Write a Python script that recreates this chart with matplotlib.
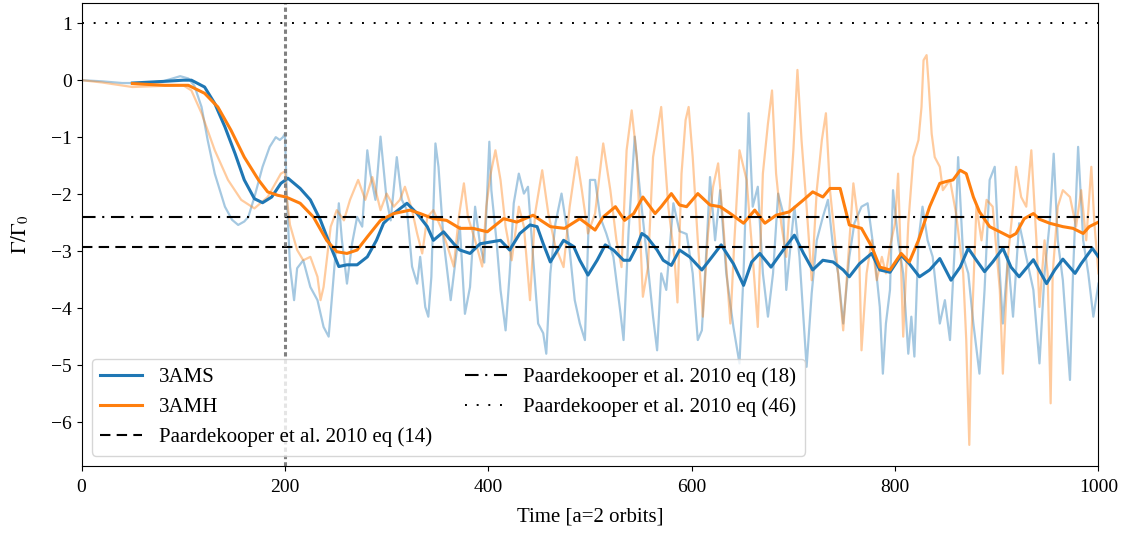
import matplotlib
matplotlib.use("Agg")
import matplotlib.pyplot as plt

plt.rcParams['font.family'] = ['Liberation Serif', 'DejaVu Serif']
plt.rcParams['mathtext.fontset'] = 'stix'
plt.rcParams['font.size'] = 14

# raw torque, run 3AMS
t_raw_s = [0, 20, 40, 60, 80, 97, 105, 111, 118, 124, 131, 141, 148, 154, 160, 164, 170, 178,
           185, 191, 195, 198, 200, 202, 205, 209, 212, 218, 225, 232, 238, 243, 246, 250, 253,
           256, 261, 266, 271, 276, 281, 284, 289, 294, 300, 304, 310, 315, 320, 325, 330, 333,
           338, 341, 344, 348, 351, 356, 363, 367, 372, 377, 382, 387, 392, 396, 401, 403, 408,
           412, 417, 421, 425, 430, 435, 439, 444, 449, 454, 457, 461, 466, 472, 479, 485, 490,
           495, 500, 505, 510, 516, 523, 530, 533, 538, 544, 549, 556, 562, 566, 570, 575, 582,
           588, 595, 601, 606, 610, 615, 618, 623, 628, 634, 641, 647, 651, 656, 660, 665, 670,
           675, 680, 685, 690, 693, 698, 701, 706, 713, 718, 723, 729, 734, 739, 744, 749, 755,
           760, 767, 773, 780, 785, 788, 791, 795, 798, 803, 808, 813, 816, 819, 823, 827, 832,
           837, 844, 849, 854, 859, 862, 867, 872, 877, 883, 888, 893, 898, 903, 906, 911, 916,
           922, 929, 936, 942, 947, 952, 956, 960, 965, 972, 975, 980, 985, 990, 995, 1000]
g_raw_s = [0.0, -0.02, -0.05, -0.05, -0.02, 0.07, 0.03, -0.1, -0.47, -1.05, -1.64, -2.22, -2.45,
           -2.54, -2.48, -2.4, -2.05, -1.52, -1.17, -1.0, -1.05, -1.0, -0.94, -2.1, -3.27, -3.86,
           -3.3, -3.16, -3.63, -3.86, -4.33, -4.5, -3.86, -2.98, -2.16, -2.8, -3.57, -2.87, -2.4,
           -2.57, -1.23, -1.64, -2.1, -0.99, -2.1, -2.46, -1.35, -2.1, -2.28, -3.27, -3.57, -3.1,
           -3.98, -4.15, -3.45, -1.11, -1.52, -2.81, -3.86, -3.27, -2.57, -4.1, -3.63, -2.22,
           -2.9, -3.2, -1.08, -1.93, -2.81, -3.68, -4.39, -3.39, -2.16, -1.64, -1.99, -1.87, -3.1,
           -4.27, -4.44, -4.8, -3.39, -2.51, -1.99, -2.81, -3.86, -4.27, -4.56, -1.75, -1.75, -2.4,
           -2.69, -3.1, -4.09, -4.56, -2.63, -0.99, -1.93, -3.1, -4.15, -4.74, -3.39, -3.68, -2.16,
           -2.65, -2.7, -3.39, -4.56, -4.39, -2.81, -1.7, -2.81, -1.93, -3.39, -4.33, -4.97, -3.39,
           -0.58, -2.22, -1.87, -3.39, -4.15, -3.39, -1.99, -2.34, -3.68, -2.75, -2.22, -3.1,
           -5.03, -3.74, -2.81, -2.4, -2.1, -2.92, -3.39, -4.27, -3.1, -2.51, -2.22, -2.16, -3.1,
           -3.98, -5.15, -4.27, -3.68, -1.93, -2.81, -3.39, -4.8, -4.15, -4.85, -2.81, -2.22,
           -2.81, -3.1, -4.27, -3.86, -4.56, -2.81, -1.35, -3.1, -3.39, -4.27, -5.15, -3.68, -1.75,
           -1.52, -3.39, -4.27, -3.1, -4.15, -2.51, -3.1, -3.68, -4.97, -3.39, -2.51, -1.29, -2.81,
           -3.51, -5.26, -3.39, -1.17, -2.81, -3.39, -4.15, -3.57]

# raw torque, run 3AMH
t_raw_h = [0, 20, 50, 80, 100, 108, 118, 131, 144, 157, 170, 183, 196, 200, 202, 205, 212, 218,
           225, 232, 235, 238, 245, 251, 258, 264, 272, 279, 286, 294, 300, 307, 313, 318, 325,
           330, 335, 340, 346, 353, 359, 366, 371, 376, 380, 387, 394, 398, 402, 407, 412, 417,
           423, 430, 435, 441, 446, 453, 459, 466, 474, 480, 487, 492, 498, 505, 513, 520, 526,
           531, 536, 541, 546, 552, 557, 562, 570, 577, 583, 586, 590, 594, 597, 601, 606, 611,
           616, 621, 626, 631, 638, 642, 647, 654, 660, 665, 670, 675, 679, 683, 688, 693, 700,
           704, 708, 713, 718, 723, 728, 732, 736, 741, 749, 754, 759, 764, 767, 772, 777, 782,
           787, 791, 795, 800, 803, 808, 813, 818, 823, 826, 828, 831, 833, 836, 839, 844, 847,
           854, 860, 867, 870, 873, 875, 880, 885, 890, 896, 903, 906, 911, 916, 919, 924, 929,
           934, 939, 942, 947, 950, 953, 955, 960, 965, 972, 978, 983, 988, 993, 996, 1000]
g_raw_h = [0.0, -0.04, -0.12, -0.1, -0.09, -0.18, -0.58, -1.23, -1.75, -2.1, -2.25, -2.05, -1.64,
           -1.6, -2.1, -2.54, -2.98, -3.16, -3.1, -3.45, -3.86, -3.63, -2.57, -2.28, -2.46, -2.1,
           -1.75, -2.1, -1.7, -2.28, -1.99, -2.22, -2.1, -1.87, -2.28, -2.69, -3.04, -2.4, -2.28,
           -2.57, -2.87, -3.27, -2.4, -1.81, -2.4, -2.81, -3.27, -2.22, -1.67, -1.23, -1.75, -2.57,
           -3.16, -2.22, -2.57, -3.86, -2.34, -1.58, -2.34, -2.92, -3.28, -2.22, -1.35, -1.93,
           -2.69, -2.34, -1.11, -1.93, -2.81, -3.28, -1.23, -0.53, -1.35, -3.8, -3.28, -1.35,
           -0.47, -2.22, -3.1, -3.9, -1.64, -0.7, -0.47, -1.35, -2.81, -4.15, -2.69, -1.87, -1.46,
           -2.51, -4.27, -2.81, -1.23, -1.75, -3.1, -4.33, -1.64, -0.76, -0.18, -1.64, -2.51, -3.1,
           -1.23, 0.18, -1.05, -2.22, -3.51, -1.93, -1.05, -0.58, -1.93, -2.81, -4.39, -3.1, -1.81,
           -2.51, -4.74, -3.39, -2.81, -3.51, -3.1, -3.39, -2.92, -2.51, -1.64, -4.5, -2.51, -1.35,
           -1.05, -0.47, 0.35, 0.44, -0.06, -0.94, -1.35, -1.52, -1.93, -1.75, -2.34, -3.39, -4.56,
           -6.4, -4.56, -2.22, -2.81, -2.1, -2.22, -3.68, -5.15, -3.1, -2.22, -1.52, -2.05, -2.22,
           -1.23, -2.81, -3.98, -2.81, -3.39, -5.67, -3.39, -2.22, -1.93, -2.05, -2.57, -1.93,
           -2.81, -1.52, -2.51, -3.39]

# running mean, 3AMS
t_avg_s = [50, 82, 100, 108, 121, 131, 141, 151, 160, 170, 178, 187, 196, 203, 215, 225, 235,
           245, 253, 261, 271, 281, 290, 297, 307, 320, 330, 340, 346, 356, 366, 372, 382, 392,
           402, 412, 421, 431, 441, 448, 454, 461, 474, 484, 490, 498, 507, 515, 523, 533, 539,
           546, 551, 556, 566, 572, 580, 588, 598, 610, 620, 629, 641, 651, 659, 667, 678, 690,
           701, 710, 719, 729, 739, 749, 755, 765, 777, 785, 795, 806, 814, 824, 834, 844, 855,
           864, 872, 880, 888, 896, 906, 914, 922, 936, 949, 957, 965, 977, 983, 994, 1000]
g_avg_s = [-0.05, -0.02, 0.0, 0.0, -0.12, -0.41, -0.82, -1.29, -1.75, -2.08, -2.15, -2.05, -1.81,
           -1.72, -1.9, -2.1, -2.46, -2.92, -3.27, -3.24, -3.24, -3.1, -2.81, -2.51, -2.34, -2.16,
           -2.34, -2.57, -2.81, -2.66, -2.87, -2.98, -3.04, -2.87, -2.84, -2.81, -2.98, -2.69,
           -2.54, -2.57, -2.87, -3.19, -2.81, -2.92, -3.16, -3.42, -3.16, -2.89, -2.98, -3.16,
           -3.16, -2.92, -2.69, -2.75, -2.98, -3.16, -3.25, -2.98, -3.1, -3.33, -3.1, -2.89, -3.22,
           -3.6, -3.19, -3.04, -3.28, -2.98, -2.72, -3.04, -3.33, -3.16, -3.19, -3.33, -3.45,
           -3.22, -3.04, -3.33, -3.37, -3.07, -3.22, -3.45, -3.33, -3.13, -3.51, -3.28, -2.95,
           -3.16, -3.36, -3.19, -2.95, -3.28, -3.45, -3.15, -3.57, -3.33, -3.14, -3.39, -3.22,
           -2.95, -3.1]

# running mean, 3AMH
t_avg_h = [50, 82, 105, 121, 134, 147, 160, 174, 183, 193, 201, 215, 228, 241, 251, 261, 271,
           281, 294, 307, 323, 333, 346, 359, 372, 385, 399, 415, 428, 444, 461, 475, 490, 505,
           513, 525, 534, 543, 552, 564, 570, 580, 588, 595, 606, 618, 628, 638, 651, 662, 672,
           683, 696, 710, 719, 729, 736, 746, 755, 767, 777, 785, 795, 806, 814, 823, 834, 844,
           852, 857, 864, 870, 877, 883, 893, 903, 913, 919, 927, 936, 942, 952, 965, 975, 985,
           991, 1000]
g_avg_h = [-0.06, -0.09, -0.09, -0.23, -0.47, -0.88, -1.35, -1.75, -1.96, -2.02, -2.05, -2.16,
           -2.4, -2.81, -3.01, -3.04, -2.98, -2.75, -2.46, -2.34, -2.28, -2.34, -2.43, -2.46, -2.6,
           -2.6, -2.66, -2.43, -2.49, -2.37, -2.57, -2.6, -2.43, -2.63, -2.4, -2.22, -2.46, -2.34,
           -2.05, -2.34, -2.22, -1.99, -2.19, -2.22, -1.99, -2.19, -2.22, -2.34, -2.51, -2.28,
           -2.51, -2.37, -2.31, -2.1, -1.96, -2.05, -1.9, -1.9, -2.54, -2.6, -2.92, -3.28, -3.33,
           -3.04, -3.19, -2.81, -2.22, -1.81, -1.77, -1.75, -1.58, -1.64, -2.05, -2.31, -2.57,
           -2.66, -2.75, -2.69, -2.43, -2.34, -2.44, -2.51, -2.57, -2.6, -2.69, -2.57, -2.49]

# analytic torques
gamma_eq14 = -2.92
gamma_eq18 = -2.40
gamma_eq46 = 1.0
t_start = 200

fig, ax = plt.subplots(figsize=(11.28, 5.36), dpi=100)
fig.subplots_adjust(left=0.0723, right=0.9738, top=0.995, bottom=0.1306)

ax.plot(t_raw_s, g_raw_s, color='tab:blue', alpha=0.4, lw=1.6)
ax.plot(t_raw_h, g_raw_h, color='tab:orange', alpha=0.4, lw=1.6)
ax.plot(t_avg_s, g_avg_s, color='tab:blue', lw=2.2, label='3AMS')
ax.plot(t_avg_h, g_avg_h, color='tab:orange', lw=2.2, label='3AMH')

ax.axhline(gamma_eq14, color='k', lw=1.5, dashes=(5, 3),
           label='Paardekooper et al. 2010 eq (14)')
ax.axhline(gamma_eq18, color='k', lw=1.5, dashes=(6.5, 3.2, 1, 3.2),
           label='Paardekooper et al. 2010 eq (18)')
ax.axhline(gamma_eq46, color='k', lw=1.4, dashes=(1, 5),
           label='Paardekooper et al. 2010 eq (46)')
ax.axvline(t_start, color='gray', lw=2.2, dashes=(1.4, 1))

ax.set_xlim(0, 1000)
ax.set_ylim(-6.77, 1.36)
ax.set_yticks(range(-6, 2))
ax.tick_params(axis='x', pad=6)
ax.set_xlabel('Time [a=2 orbits]', labelpad=8, fontsize=15)
ax.set_ylabel(r'$\Gamma/\Gamma_0$', labelpad=14, fontsize=15)
ax.legend(loc='lower left', ncol=2, fontsize=15, columnspacing=1.6)

fig.savefig('out.png', dpi=100)
